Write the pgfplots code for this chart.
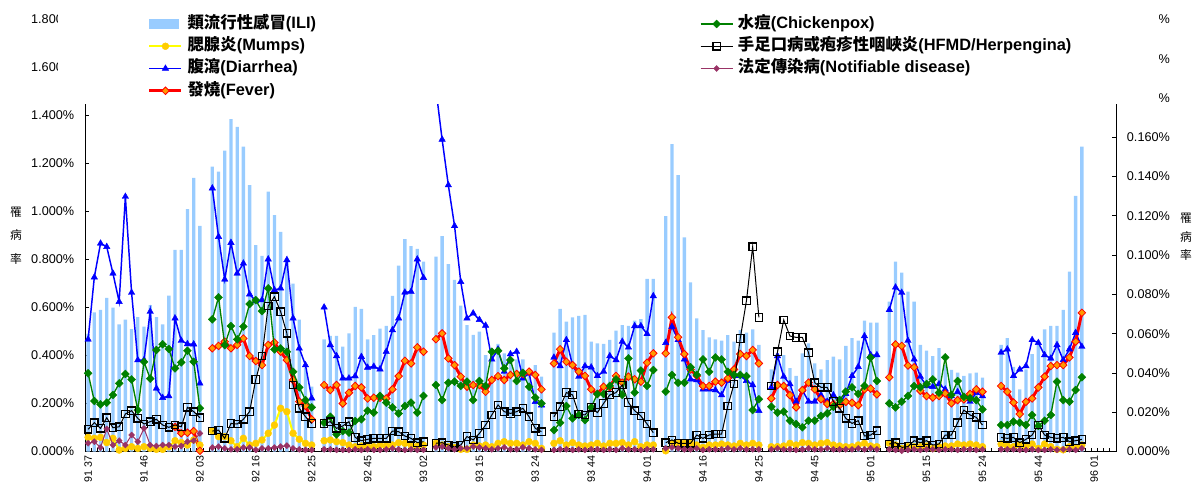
\documentclass[border=0pt]{standalone}
\usepackage{pgfplots}
\pgfplotsset{compat=1.18}
\usepackage{pgfplotstable}
\usepackage{fontspec}
\setmainfont{Liberation Sans}
\newfontfamily\cjk{Noto Sans CJK TC}
\definecolor{ili}{HTML}{99CCFF}
\definecolor{mumline}{HTML}{FFFF00}
\definecolor{mummark}{HTML}{FFCC00}
\definecolor{diar}{HTML}{0000FF}
\definecolor{fevline}{HTML}{FF0000}
\definecolor{fevmark}{HTML}{FF9900}
\definecolor{chick}{HTML}{008000}
\definecolor{notif}{HTML}{993366}

\pgfplotstableread{
i ili mum dia fev chk hfm ntf
0 0.49 0.059 0.467 nan 0.0398 0.0113 0.0042
1 0.58 0.055 0.726 nan 0.0257 0.0147 0.0050
2 0.59 0.059 0.867 nan 0.0240 0.0118 0.0020
3 0.64 0.037 0.853 nan 0.0249 0.0172 0.0115
4 0.60 0.055 0.742 nan 0.0288 0.0121 0.0033
5 0.53 0.006 0.624 nan 0.0347 0.0126 0.0055
6 0.55 0.013 1.062 nan 0.0395 0.0191 0.0033
7 0.51 0.020 0.662 nan 0.0367 0.0208 0.0084
8 0.56 0.013 0.381 nan 0.0211 0.0169 0.0050
9 0.52 0.020 0.381 nan 0.0457 0.0140 0.0118
10 0.61 0.013 0.583 nan 0.0371 0.0152 0.0033
11 0.56 0.009 0.263 nan 0.0517 0.0164 0.0028
12 0.53 0.009 0.224 nan 0.0546 0.0135 0.0033
13 0.65 0.020 0.231 nan 0.0522 0.0123 0.0033
14 0.84 0.045 0.555 0.103 0.0423 0.0135 0.0025
15 0.84 0.037 0.462 0.076 0.0454 0.0126 0.0028
16 1.01 0.027 0.448 0.078 0.0513 0.0225 0.0050
17 1.14 0.048 0.447 0.085 0.0457 0.0203 0.0055
18 0.94 0.027 0.284 0.003 0.0220 0.0172 0.0092
19 nan nan nan nan nan nan nan
20 1.187 0.087 1.097 0.430 0.0673 0.0104 0.0020
21 1.166 0.062 0.895 0.440 0.0785 0.0109 0.0025
22 1.254 0.062 0.717 0.458 0.0542 0.0067 0.0016
23 1.385 0.045 0.870 0.430 0.0639 0.0143 0.0011
24 1.353 0.020 0.742 0.444 0.0571 0.0140 0.0011
25 1.270 0.055 0.784 0.471 0.0636 0.0164 0.0020
26 1.110 0.027 0.655 0.398 0.0751 0.0203 0.0020
27 0.860 0.034 0.627 0.377 0.0771 0.0367 0.0008
28 0.815 0.048 0.631 0.360 0.0715 0.0486 0.0016
29 1.083 0.076 0.801 0.444 0.0831 0.0741 0.0016
30 0.985 0.110 0.673 0.454 0.0520 0.0788 0.0020
31 0.915 0.180 0.680 0.416 0.0525 0.0712 0.0025
32 0.80 0.166 0.798 0.381 0.0508 0.0602 0.0030
33 0.70 0.076 0.555 0.298 0.0406 0.0339 0.0016
34 0.55 0.051 0.430 0.208 0.0327 0.0220 0.0011
35 0.35 0.034 0.360 0.190 0.0262 0.0177 0.0008
36 0.27 0.027 0.222 0.134 0.0225 0.0143 0.0008
37 nan nan nan nan nan nan nan
38 0.467 0.045 0.601 0.277 0.0147 0.0143 0.0011
39 0.482 0.048 0.444 0.256 0.0177 0.0152 0.0011
40 0.482 0.041 0.398 0.277 0.0087 0.0118 0.0008
41 0.437 0.037 0.305 0.200 0.0104 0.0130 0.0008
42 0.492 0.027 0.305 0.245 0.0096 0.0152 0.0008
43 0.603 0.020 0.314 0.273 0.0155 0.0072 0.0011
44 0.594 0.023 0.395 0.267 0.0164 0.0055 0.0008
45 0.467 0.020 0.350 0.221 0.0208 0.0062 0.0011
46 0.485 0.020 0.354 0.224 0.0198 0.0067 0.0008
47 0.512 0.027 0.343 0.224 0.0283 0.0067 0.0008
48 0.523 0.023 0.416 0.221 0.0249 0.0067 0.0011
49 0.648 0.027 0.506 0.259 0.0225 0.0104 0.0016
50 0.774 0.037 0.555 0.314 0.0194 0.0101 0.0011
51 0.885 0.034 0.663 0.378 0.0232 0.0079 0.0008
52 0.856 0.027 0.666 0.367 0.0249 0.0067 0.0011
53 0.844 0.023 0.801 0.434 0.0198 0.0045 0.0008
54 0.791 0.027 0.724 0.416 0.0283 0.0050 0.0008
55 nan nan nan nan nan nan nan
56 0.812 0.034 1.510 0.468 0.0339 0.0042 0.0021
57 0.897 0.027 1.300 0.492 0.0262 0.0045 0.0025
58 0.781 0.020 1.110 0.388 0.0350 0.0033 0.0016
59 0.715 0.017 0.940 0.360 0.0356 0.0025 0.0011
60 0.608 0.009 0.707 0.312 0.0334 0.0033 0.0016
61 0.527 0.009 0.555 0.270 0.0356 0.0076 0.0016
62 0.486 0.027 0.576 0.277 0.0262 0.0059 0.0025
63 0.500 0.023 0.549 0.277 0.0359 0.0092 0.0021
64 0.402 0.027 0.525 0.249 0.0334 0.0135 0.0016
65 0.423 0.020 0.384 0.298 0.0508 0.0186 0.0011
66 0.448 0.034 0.426 0.314 0.0513 0.0237 0.0016
67 0.409 0.041 0.333 0.298 0.0423 0.0203 0.0021
68 0.388 0.034 0.406 0.319 0.0466 0.0194 0.0011
69 0.384 0.034 0.416 0.323 0.0359 0.0203 0.0011
70 0.384 0.027 0.305 0.323 0.0401 0.0220 0.0021
71 0.326 0.041 0.326 0.333 0.0330 0.0177 0.0016
72 0.360 0.034 0.207 0.319 0.0274 0.0118 0.0011
73 0.312 0.013 0.193 0.259 0.0245 0.0101 0.0008
74 nan nan nan nan nan nan nan
75 0.495 0.034 0.392 0.367 0.0109 0.0177 0.0008
76 0.594 0.045 0.356 0.426 0.0147 0.0228 0.0011
77 0.541 0.027 0.465 0.374 0.0232 0.0300 0.0011
78 0.559 0.037 0.360 0.360 0.0169 0.0288 0.0008
79 0.565 0.027 0.312 0.333 0.0186 0.0191 0.0011
80 0.569 0.023 0.356 0.315 0.0160 0.0186 0.0008
81 0.458 0.027 0.351 0.259 0.0225 0.0225 0.0011
82 0.451 0.034 0.315 0.240 0.0293 0.0198 0.0011
83 0.448 0.023 0.333 0.270 0.0293 0.0245 0.0008
84 0.465 0.034 0.398 0.267 0.0334 0.0288 0.0011
85 0.504 0.034 0.381 0.315 0.0367 0.0300 0.0008
86 0.527 0.037 0.458 0.287 0.0288 0.0339 0.0016
87 0.523 0.027 0.434 0.312 0.0474 0.0249 0.0011
88 0.545 0.041 0.523 0.301 0.0300 0.0208 0.0011
89 0.552 0.020 0.523 0.291 0.0412 0.0181 0.0008
90 0.719 0.027 0.490 0.370 0.0334 0.0140 0.0011
91 0.719 0.027 0.648 0.409 0.0415 0.0096 0.0011
92 nan nan nan nan nan nan nan
93 0.981 0.003 0.453 0.409 0.0305 0.0045 0.0016
94 1.281 0.034 0.520 0.559 0.0390 0.0059 0.0021
95 1.152 0.034 0.465 0.476 0.0350 0.0042 0.0016
96 0.892 0.034 0.384 0.406 0.0350 0.0042 0.0011
97 0.705 0.034 0.301 0.342 0.0429 0.0042 0.0011
98 0.555 0.027 0.298 0.315 0.0390 0.0084 0.0016
99 0.506 0.017 0.259 0.273 0.0469 0.0067 0.0008
100 0.476 0.027 0.259 0.273 0.0406 0.0084 0.0011
101 0.467 0.027 0.256 0.291 0.0479 0.0089 0.0011
102 0.462 0.031 0.235 0.287 0.0469 0.0089 0.0011
103 0.485 0.027 0.295 0.305 0.0406 0.0232 0.0016
104 0.458 0.023 0.315 0.342 0.0390 0.0344 0.0011
105 0.506 0.034 0.315 0.406 0.0390 0.0576 0.0016
106 0.495 0.027 0.295 0.398 0.0384 0.0768 0.0011
107 0.509 0.034 0.277 0.423 0.0211 0.1043 0.0011
108 0.444 0.027 0.170 0.367 0.0266 0.0683 0.0011
109 nan nan nan nan nan nan nan
110 0.342 0.020 0.267 0.221 0.0228 0.0334 0.0011
111 0.406 0.020 0.398 0.277 0.0198 0.0508 0.0016
112 0.402 0.023 0.312 0.273 0.0203 0.0670 0.0011
113 0.347 0.034 0.281 0.235 0.0157 0.0588 0.0011
114 0.315 0.027 0.208 0.184 0.0140 0.0581 0.0008
115 0.409 0.037 0.256 0.256 0.0123 0.0581 0.0011
116 0.451 0.034 0.208 0.287 0.0157 0.0503 0.0016
117 0.367 0.027 0.208 0.259 0.0157 0.0350 0.0011
118 0.342 0.034 0.235 0.218 0.0181 0.0327 0.0011
119 0.381 0.037 0.208 0.198 0.0194 0.0327 0.0016
120 0.395 0.027 0.235 0.198 0.0228 0.0254 0.0011
121 0.384 0.023 0.201 0.193 0.0262 0.0220 0.0011
122 0.440 0.020 0.240 0.207 0.0305 0.0169 0.0011
123 0.472 0.020 0.315 0.203 0.0327 0.0143 0.0011
124 0.462 0.027 0.353 0.193 0.0293 0.0157 0.0016
125 0.545 0.034 0.481 0.259 0.0334 0.0079 0.0011
126 0.537 0.023 0.402 0.262 0.0479 0.0084 0.0016
127 0.537 0.020 0.402 0.238 0.0359 0.0106 0.0011
128 nan nan nan nan nan nan nan
129 0.624 0.034 0.590 0.309 0.0245 0.0038 0.0011
130 0.791 0.027 0.684 0.446 0.0225 0.0045 0.0008
131 0.745 0.013 0.662 0.440 0.0254 0.0021 0.0004
132 0.666 0.020 0.462 0.358 0.0283 0.0025 0.0008
133 0.624 0.020 0.384 0.351 0.0334 0.0055 0.0011
134 0.444 0.020 0.312 0.253 0.0327 0.0045 0.0008
135 0.420 0.023 0.273 0.231 0.0344 0.0055 0.0011
136 0.397 0.013 0.270 0.225 0.0367 0.0033 0.0011
137 0.431 0.020 0.281 0.231 0.0300 0.0038 0.0008
138 0.360 0.023 0.259 0.242 0.0479 0.0084 0.0011
139 0.340 0.023 0.231 0.201 0.0288 0.0084 0.0011
140 0.329 0.031 0.249 0.214 0.0359 0.0147 0.0008
141 0.315 0.027 0.222 0.217 0.0279 0.0211 0.0011
142 0.326 0.031 0.208 0.240 0.0271 0.0186 0.0011
143 0.329 0.027 0.245 0.259 0.0262 0.0174 0.0008
144 0.308 0.020 0.231 0.249 0.0215 0.0135 0.0011
145 nan nan nan nan nan nan nan
146 nan nan nan nan nan nan nan
147 0.444 0.031 0.412 0.273 0.0135 0.0072 0.0011
148 0.472 0.023 0.426 0.249 0.0135 0.0067 0.0011
149 0.353 0.020 0.315 0.204 0.0152 0.0072 0.0011
150 0.259 0.027 0.342 0.156 0.0147 0.0045 0.0008
151 0.342 0.020 0.356 0.207 0.0135 0.0062 0.0008
152 0.406 0.031 0.465 0.221 0.0186 0.0084 0.0011
153 0.451 0.013 0.453 0.267 0.0130 0.0135 0.0008
154 0.509 0.031 0.402 0.312 0.0157 0.0084 0.0008
155 0.523 0.020 0.388 0.356 0.0186 0.0072 0.0011
156 0.523 0.009 0.444 0.360 0.0356 0.0067 0.0008
157 0.590 0.007 0.381 0.360 0.0262 0.0072 0.0011
158 0.749 0.020 0.426 0.392 0.0254 0.0050 0.0011
159 1.065 0.017 0.495 0.458 0.0313 0.0055 0.0008
160 1.270 0.027 0.437 0.578 0.0378 0.0062 0.0016
}\data

\pgfplotsset{
  common/.style={
    at={(63.75pt,-338.625pt)}, anchor=south west,
    width=773.25pt, height=260.625pt, scale only axis,
    xmin=-0.5, xmax=165.5, ymin=0,
    unbounded coords=jump,
    axis line style={line width=0.75pt, black},
    tick align=inside, major tick length=3pt,
    tick style={line width=0.6pt, black},
    /pgf/number format/assume math mode=true,
    yticklabel style={inner sep=0pt, font=\fontsize{9.5}{11}\selectfont},
    legend cell align=left,
    legend image code/.code={\draw[mark repeat=2,mark phase=2,##1] plot coordinates {(0pt,0pt) (12pt,0pt) (24pt,0pt)};},
  },
  lgd/.style={legend style={draw=none, fill=none, inner sep=0pt, outer sep=0pt,
    anchor=north west, at={#1},
    font=\fontsize{12.3}{14}\selectfont\bfseries,
    row sep=4.9pt,
    nodes={inner sep=0pt, text height=9.2pt, text depth=2.6pt, anchor=west},
    /tikz/every odd column/.append style={column sep=3.5pt}}},
}

\begin{document}
\begin{tikzpicture}
\useasboundingbox (0,0) rectangle (894.75pt,-362.25pt);

\begin{axis}[common,
  ymax=1.4479,
  axis x line*=bottom, axis y line*=left,
  ytick={0,0.2,0.4,0.6,0.8,1.0,1.2,1.4},
  yticklabel={\pgfmathprintnumber[fixed,fixed zerofill,precision=3]{\tick}\%},
  yticklabel shift=7.9pt,
  xtick={-0.5,0.5,...,165.5}, xticklabels={},
  extra x ticks={0,9,...,162},
  extra x tick labels={91 37,91 46,92 03,92 16,92 25,92 45,93 02,93 15,93 24,93 44,94 01,94 16,94 25,94 45,95 01,95 15,95 24,95 44,96 01},
  extra x tick style={major tick length=0pt},
  xticklabel style={rotate=90, anchor=east, inner sep=0pt, font=\fontsize{8}{9}\selectfont},
  xticklabel shift=3.2pt,
  lgd={(0.0611,1.2529)},
]
\addplot[ybar, bar width=2.5pt, fill=ili, draw=none,
  legend image code/.code={\fill[ili] (0pt,-4.1pt) rectangle (22.5pt,4.1pt);}]
  table[x=i,y=ili]{\data};
\addlegendentry{{\cjk 類流行性感冒}(ILI)}
\addplot[mumline, line width=1.5pt, mark=*, mark size=2.6pt,
  mark options={fill=mummark, draw=mummark, line width=0.3pt}]
  table[x=i,y=mum]{\data};
\addlegendentry{{\cjk 腮腺炎}(Mumps)}
\addplot[diar, line width=1.1pt, mark=triangle*, mark size=2.8pt,
  mark options={fill=diar, draw=diar, line width=0.3pt}]
  table[x=i,y=dia]{\data};
\addlegendentry{{\cjk 腹瀉}(Diarrhea)}
\addplot[fevline, line width=2.2pt, mark=square*, mark size=2.0pt,
  mark options={fill=fevmark, draw=fevline, line width=0.6pt, rotate=45}]
  table[x=i,y=fev]{\data};
\addlegendentry{{\cjk 發燒}(Fever)}
\end{axis}

\begin{axis}[common,
  ymax=0.17694,
  axis x line=none, axis y line*=right,
  ytick={0,0.02,0.04,0.06,0.08,0.1,0.12,0.14,0.16},
  yticklabel={\pgfmathprintnumber[fixed,fixed zerofill,precision=3]{\tick}\%},
  yticklabel shift=8pt,
  lgd={(0.5965,1.2529)},
]
\addplot[chick, line width=1pt, mark=square*, mark size=2.1pt,
  mark options={fill=chick, draw=chick, line width=0.3pt, rotate=45}]
  table[x=i,y=chk]{\data};
\addlegendentry{{\cjk 水痘}(Chickenpox)}
\addplot[black, line width=0.75pt, mark=square, mark size=2.8pt,
  mark options={draw=black, line width=0.9pt}]
  table[x=i,y=hfm]{\data};
\addlegendentry{{\cjk 手足口病或疱疹性咽峽炎}(HFMD/Herpengina)}
\addplot[notif, line width=0.75pt, mark=square*, mark size=1.6pt,
  mark options={fill=notif, draw=notif, line width=0.3pt, rotate=45}]
  table[x=i,y=ntf]{\data};
\addlegendentry{{\cjk 法定傳染病}(Notifiable disease)}
\end{axis}

% tick labels of the upper part of both scales, hidden behind the legend
\begin{scope}
\clip (0pt,0pt) rectangle (43.1pt,-80pt);
\node[anchor=east, inner sep=0pt, font=\fontsize{9.5}{11}\selectfont] at (55.8pt,-14.6pt) {1.800\%};
\node[anchor=east, inner sep=0pt, font=\fontsize{9.5}{11}\selectfont] at (55.8pt,-50.6pt) {1.600\%};
\end{scope}
\begin{scope}
\clip (869.5pt,0pt) rectangle (894.75pt,-80pt);
\node[anchor=west, inner sep=0pt, font=\fontsize{9.5}{11}\selectfont] at (845pt,-14.6pt) {0.220\%};
\node[anchor=west, inner sep=0pt, font=\fontsize{9.5}{11}\selectfont] at (845pt,-44.1pt) {0.200\%};
\node[anchor=west, inner sep=0pt, font=\fontsize{9.5}{11}\selectfont] at (845pt,-73.6pt) {0.180\%};
\end{scope}

\node[align=center, inner sep=0pt, font=\cjk\fontsize{8.8}{17.6}\selectfont] at (12pt,-176.6pt) {罹\\病\\率};
\node[align=center, inner sep=0pt, font=\cjk\fontsize{8.8}{14}\selectfont] at (889.5pt,-177.7pt) {罹\\病\\率};
\end{tikzpicture}
\end{document}
